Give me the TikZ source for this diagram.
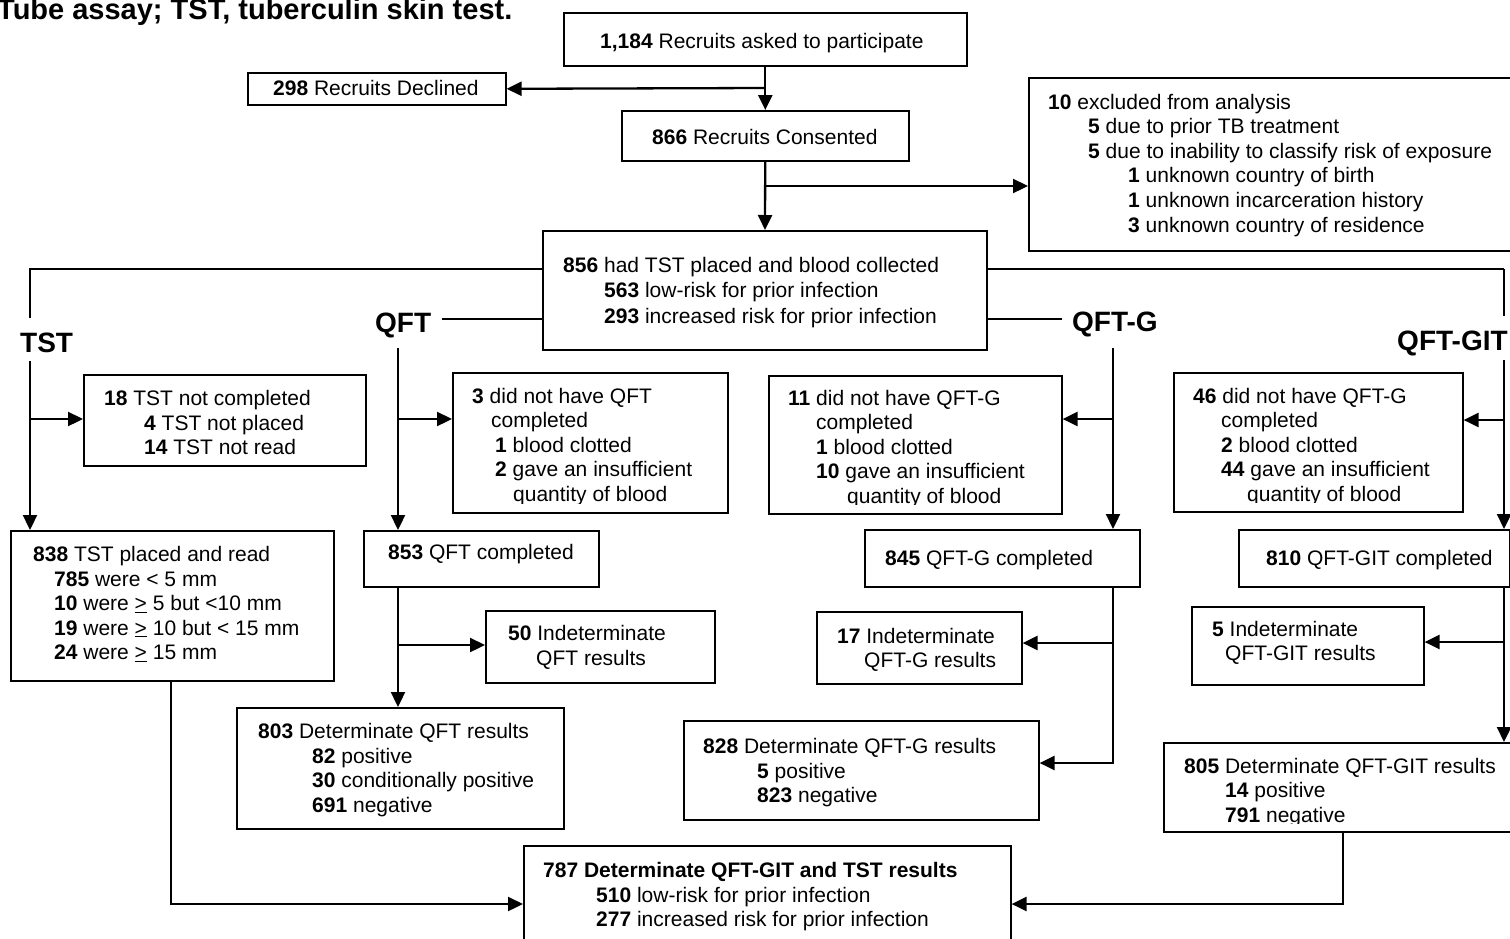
\documentclass[tikz,border=0pt]{standalone}
\usepackage{fontspec}
\setmainfont{Liberation Sans}
\usetikzlibrary{arrows.meta}
\tikzset{
  x=1pt, y=-1pt,
  bx/.style={draw, line width=1.6pt, inner sep=0pt, anchor=north west},
  tx/.style={anchor=base west, inner sep=0pt, font=\fontsize{21}{24.6}\selectfont},
  lab/.style={anchor=base west, inner sep=0pt, font=\fontsize{28}{30}\selectfont\bfseries},
  arr/.style={line width=2.3pt, -{Triangle[length=15pt,width=14pt]}},
  ln/.style={line width=2.3pt},
  thinln/.style={line width=1.6pt},
}
\newcommand\Bx[5]{\node[bx, minimum width=#4pt, minimum height=#5pt] (#1) at (#2,#3) {};}
\newcommand\Ln[4]{\node[tx] (#1) at (#2,#3) {#4};}
\begin{document}
\begin{tikzpicture}
\clip (0,0) rectangle (1510,938);
\fill[white] (0,0) rectangle (1510,938);
\node[anchor=base west, inner sep=0pt, font=\fontsize{29}{30}\selectfont\bfseries] (title) at (-3,19) {Tube assay; TST, tuberculin skin test.};

% boxes
\Bx{bAsk}{563}{12}{403}{53}
\Bx{bDecl}{247}{72}{258}{32}
\Bx{bCons}{621}{110}{287}{50}
\Bx{bExcl}{1028}{77}{492}{173}
\Bx{b856}{542}{230}{444}{119}
\Bx{bTSTx}{83}{374}{282}{91}
\Bx{bQx}{452}{372}{275}{140}
\Bx{bGx}{768}{375}{293}{138}
\Bx{bGITx}{1173}{372}{289}{139}
\Bx{b838}{10}{530}{323}{150}
\Bx{b853}{363}{530}{235}{56}
\Bx{b50}{485}{610}{229}{72}
\Bx{b803}{236}{707}{327}{121}
\Bx{b845}{864}{529}{275}{57}
\Bx{b17}{816}{611}{205}{72}
\Bx{b828}{683}{720}{355}{99}
\Bx{b810}{1238}{529}{271}{57}
\Bx{b5}{1191}{606}{232}{78}
\Bx{b805}{1163}{742}{357}{89}
\Bx{b787}{523}{845}{487}{105}

% texts
\Ln{tAsk}{600}{48.5}{\textbf{1,184} Recruits asked to participate}
\Ln{tDecl}{273}{95.5}{\textbf{298} Recruits Declined}
\Ln{tCons}{652}{144}{\textbf{866} Recruits Consented}
\Ln{tE1}{1048}{109}{\textbf{10} excluded from analysis}
\Ln{tE2}{1088}{133.6}{\textbf{5} due to prior TB treatment}
\Ln{tE3}{1088}{158.2}{\textbf{5} due to inability to classify risk of exposure}
\Ln{tE4}{1128}{182.8}{\textbf{1} unknown country of birth}
\Ln{tE5}{1128}{207.4}{\textbf{1} unknown incarceration history}
\Ln{tE6}{1128}{232}{\textbf{3} unknown country of residence}
\Ln{t856a}{563}{272.5}{\textbf{856} had TST placed and blood collected}
\Ln{t856b}{604}{297.5}{\textbf{563} low-risk for prior infection}
\Ln{t856c}{604}{323}{\textbf{293} increased risk for prior infection}

\node[lab] (lTST) at (20,352) {TST};
\node[lab] (lQFT) at (375,332) {QFT};
\node[lab] (lQG) at (1072,331) {QFT-G};
\node[lab] (lQGIT) at (1397,350) {QFT-GIT};

\Ln{tT1}{104}{405.5}{\textbf{18} TST not completed}
\Ln{tT2}{144}{430}{\textbf{4} TST not placed}
\Ln{tT3}{144}{454.5}{\textbf{14} TST not read}

\begin{scope}
\clip (bQx.north west) rectangle ([yshift=10pt]bQx.south east);
\Ln{tQ1}{472}{403}{\textbf{3} did not have QFT}
\Ln{tQ2}{491}{427.5}{completed}
\Ln{tQ3}{495}{452}{\textbf{1} blood clotted}
\Ln{tQ4}{495}{476.5}{\textbf{2} gave an insufficient}
\Ln{tQ5}{513}{501}{quantity of blood}
\end{scope}
\begin{scope}
\clip (bGx.north west) rectangle ([yshift=10pt]bGx.south east);
\Ln{tG1}{788}{405}{\textbf{11} did not have QFT-G}
\Ln{tG2}{816}{429.5}{completed}
\Ln{tG3}{816}{454}{\textbf{1} blood clotted}
\Ln{tG4}{816}{478.5}{\textbf{10} gave an insufficient}
\Ln{tG5}{847}{503}{quantity of blood}
\end{scope}
\begin{scope}
\clip (bGITx.north west) rectangle ([yshift=10pt]bGITx.south east);
\Ln{tI1}{1193}{403}{\textbf{46} did not have QFT-G}
\Ln{tI2}{1221}{427.5}{completed}
\Ln{tI3}{1221}{452}{\textbf{2} blood clotted}
\Ln{tI4}{1221}{476.5}{\textbf{44} gave an insufficient}
\Ln{tI5}{1247}{501}{quantity of blood}
\end{scope}

\Ln{t838a}{33}{561.5}{\textbf{838} TST placed and read}
\Ln{t838b}{54}{586}{\textbf{785} were {<} 5 mm}
\Ln{t838c}{54}{610.5}{\textbf{10} were \underline{>} 5 but {<}10 mm}
\Ln{t838d}{54}{635}{\textbf{19} were \underline{>} 10 but {<} 15 mm}
\Ln{t838e}{54}{659.5}{\textbf{24} were \underline{>} 15 mm}

\Ln{t853}{388}{559.5}{\textbf{853} QFT completed}
\Ln{t50a}{508}{640.5}{\textbf{50} Indeterminate}
\Ln{t50b}{536}{665}{QFT results}
\Ln{t803a}{258}{738.5}{\textbf{803} Determinate QFT results}
\Ln{t803b}{312}{763}{\textbf{82} positive}
\Ln{t803c}{312}{787.5}{\textbf{30} conditionally positive}
\Ln{t803d}{312}{812}{\textbf{691} negative}

\Ln{t845}{885}{565.5}{\textbf{845} QFT-G completed}
\Ln{t17a}{837}{643}{\textbf{17} Indeterminate}
\Ln{t17b}{864}{667.5}{QFT-G results}
\Ln{t828a}{703}{753.5}{\textbf{828} Determinate QFT-G results}
\Ln{t828b}{757}{778}{\textbf{5} positive}
\Ln{t828c}{757}{802.5}{\textbf{823} negative}

\Ln{t810}{1266}{565.5}{\textbf{810} QFT-GIT completed}
\Ln{t5a}{1212}{636}{\textbf{5} Indeterminate}
\Ln{t5b}{1225}{660.5}{QFT-GIT results}
\begin{scope}
\clip (b805.north west) rectangle ([yshift=9pt]b805.south east);
\Ln{t805a}{1184}{773}{\textbf{805} Determinate QFT-GIT results}
\Ln{t805b}{1225}{797.5}{\textbf{14} positive}
\Ln{t805c}{1225}{822}{\textbf{791} negative}
\end{scope}

\Ln{t787a}{543}{877.5}{\textbf{787 Determinate QFT-GIT and TST results}}
\Ln{t787b}{596}{902}{\textbf{510} low-risk for prior infection}
\Ln{t787c}{596}{926.5}{\textbf{277} increased risk for prior infection}

% connectors top
\draw[arr] (bAsk) -- (bCons);
\coordinate (j1) at (764.5,88);
\draw[arr] (j1) -- (bDecl.east);
\draw[arr] (bCons) -- (b856);
\coordinate (j2) at (764,186);
\draw[arr] (j2) -- (j2 -| bExcl.west);

% TST column
\coordinate (cT1) at (30,269);
\coordinate (cT2) at (30,318);
\coordinate (cT3) at (30,361);
\coordinate (cT4) at (30,419);
\draw[ln] (b856.west |- cT1) -- (cT1) -- (cT2);
\draw[arr] (cT3) -- (cT3 |- b838.north);
\draw[arr] (cT4) -- (cT4 -| bTSTx.west);

% QFT column
\coordinate (cQ1) at (442,319);
\coordinate (cQ2) at (398,348);
\coordinate (cQ3) at (398,419);
\coordinate (cQ4) at (398,645);
\draw[thinln] (b856.west |- cQ1) -- (cQ1);
\draw[arr] (cQ2) -- (cQ2 |- b853.north);
\draw[arr] (cQ3) -- (cQ3 -| bQx.west);
\draw[arr] (cQ2 |- b853.south) -- (cQ2 |- b803.north);
\draw[arr] (cQ4) -- (cQ4 -| b50.west);

% QFT-G column
\coordinate (cG1) at (1062,319);
\coordinate (cG2) at (1113,348);
\coordinate (cG3) at (1113,419);
\coordinate (cG4) at (1113,643);
\coordinate (cG5) at (1113,763);
\draw[thinln] (b856.east |- cG1) -- (cG1);
\draw[arr] (cG2) -- (cG2 |- b845.north);
\draw[arr] (cG3) -- (cG3 -| bGx.east);
\draw[arr] (cG2 |- b845.south) -- (cG5) -- (cG5 -| b828.east);
\draw[arr] (cG4) -- (cG4 -| b17.east);

% QFT-GIT column
\coordinate (cI1) at (1504,269);
\coordinate (cI2) at (1504,316);
\coordinate (cI3) at (1504,360);
\coordinate (cI4) at (1504,420);
\coordinate (cI5) at (1504,642);
\draw[ln] (b856.east |- cI1) -- (cI1);
\draw[thinln] (cI1) -- (cI2);
\draw[arr] (cI3) -- (cI3 |- b810.north);
\draw[arr] (cI4) -- (cI4 -| bGITx.east);
\draw[arr] (cI3 |- b810.south) -- (cI3 |- b805.north);
\draw[arr] (cI5) -- (cI5 -| b5.east);

% bottom
\coordinate (cB1) at (171,904);
\coordinate (cB2) at (1343,904);
\draw[arr] (cB1 |- b838.south) -- (cB1) -- (b787.west |- cB1);
\draw[arr] (cB2 |- b805.south) -- (cB2) -- (b787.east |- cB2);
\end{tikzpicture}
\end{document}
